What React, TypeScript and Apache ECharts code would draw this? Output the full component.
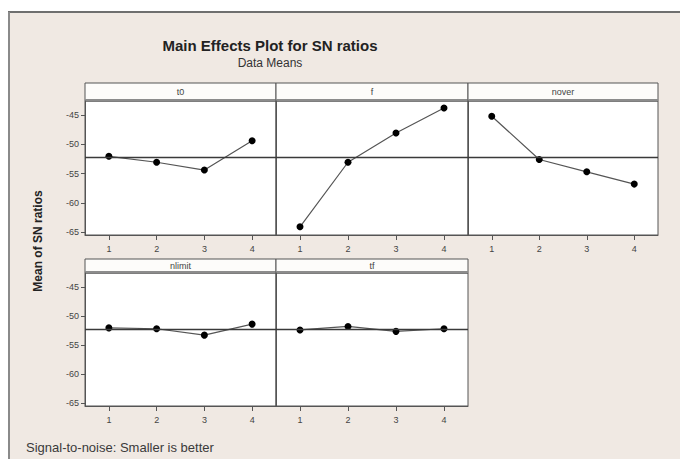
import React, { useEffect, useRef } from "react";
import * as echarts from "echarts";

const levels = ["1", "2", "3", "4"];
const factorNames = ["t0", "f", "nover", "nlimit", "tf"];
const t0Means = [-52.05, -53.07, -54.4, -49.4];
const fMeans = [-64.1, -53.07, -48.07, -43.8];
const noverMeans = [-45.2, -52.6, -54.7, -56.8];
const nlimitMeans = [-52.05, -52.2, -53.3, -51.4];
const tfMeans = [-52.4, -51.8, -52.65, -52.2];
const overallMean = -52.2;
const yTicks = [-65, -60, -55, -50, -45];
const yMin = -65.5;
const yMax = -42.6;

const titleText = "Main Effects Plot for SN ratios";
const subtitleText = "Data Means";
const yAxisTitle = "Mean of SN ratios";
const footnote = "Signal-to-noise: Smaller is better";

const seriesData = [t0Means, fMeans, noverMeans, nlimitMeans, tfMeans];

// layout: [left, width, headerTop, plotTop, plotBottom]
const panels = [
  [85, 191, 83, 101, 235],
  [276, 192, 83, 101, 235],
  [468, 190, 83, 101, 235],
  [85, 191, 259, 273, 406],
  [276, 192, 259, 273, 406],
];

const FONT = "Liberation Sans, Arial, sans-serif";

export default function App() {
  const ref = useRef<HTMLDivElement>(null);
  useEffect(() => {
    if (!ref.current) return;
    const chart = echarts.init(ref.current, undefined, { renderer: "svg" });
    const grids: any[] = [];
    const xAxes: any[] = [];
    const yAxes: any[] = [];
    const series: any[] = [];
    const graphics: any[] = [];

    // outer white margins and frame
    graphics.push({ type: "rect", shape: { x: 0, y: 0, width: 680, height: 11 }, style: { fill: "#ffffff" }, silent: true });
    graphics.push({ type: "rect", shape: { x: 0, y: 0, width: 8, height: 459 }, style: { fill: "#ffffff" }, silent: true });
    graphics.push({ type: "line", shape: { x1: 8, y1: 12, x2: 680, y2: 12 }, style: { stroke: "#6f6f6f", lineWidth: 2 }, silent: true });
    graphics.push({ type: "line", shape: { x1: 9, y1: 12, x2: 9, y2: 459 }, style: { stroke: "#8a8a8a", lineWidth: 2 }, silent: true });

    panels.forEach((p, i) => {
      const [left, width, hTop, pTop, pBottom] = p;
      const isLeft = i === 0 || i === 3;
      grids.push({
        left,
        top: pTop,
        width,
        height: pBottom - pTop,
        show: true,
        backgroundColor: "#ffffff",
        borderColor: "#555555",
        borderWidth: 1,
      });
      xAxes.push({
        type: "category",
        gridIndex: i,
        data: levels,
        boundaryGap: true,
        axisLine: { show: true, lineStyle: { color: "#555555", width: 1 } },
        axisTick: { show: true, alignWithLabel: true, length: 5, lineStyle: { color: "#555555" } },
        axisLabel: { fontSize: 9, color: "#444444", margin: 9, fontFamily: FONT },
        splitLine: { show: false },
      });
      yAxes.push({
        type: "value",
        gridIndex: i,
        min: yMin,
        max: yMax,
        axisLine: { show: true, lineStyle: { color: "#555555", width: 1 } },
        axisTick: { show: isLeft, length: 4, customValues: yTicks, lineStyle: { color: "#555555" } },
        axisLabel: { show: isLeft, customValues: yTicks, fontSize: 9, color: "#444444", margin: 6, fontFamily: FONT },
        splitLine: { show: false },
      });
      series.push({
        type: "line",
        xAxisIndex: i,
        yAxisIndex: i,
        data: seriesData[i],
        symbol: "circle",
        symbolSize: 7,
        itemStyle: { color: "#000000" },
        lineStyle: { color: "#555555", width: 1.2 },
        markLine: {
          silent: true,
          symbol: "none",
          label: { show: false },
          lineStyle: { color: "#3a3a3a", width: 1.3, type: "solid" },
          data: [{ yAxis: overallMean }],
        },
        z: 3,
      });
      // header strip
      graphics.push({
        type: "rect",
        shape: { x: left, y: hTop, width, height: pTop - hTop },
        style: { fill: "#fdfcfa", stroke: "#555555", lineWidth: 1 },
        silent: true,
      });
      graphics.push({
        type: "line",
        shape: { x1: left, y1: pTop - 1, x2: left + width, y2: pTop - 1 },
        style: { stroke: "#8c8c8c", lineWidth: 2 },
        silent: true,
      });
      graphics.push({
        type: "text",
        x: left + width / 2,
        y: hTop + (pTop - hTop) / 2 - 0.5,
        style: {
          text: factorNames[i],
          fill: "#444444",
          font: `9px ${FONT}`,
          textAlign: "center",
          textVerticalAlign: "middle",
        },
        silent: true,
      });
    });

    graphics.push({
      type: "text",
      x: 270,
      y: 45,
      style: { text: titleText, fill: "#222222", font: `bold 15px ${FONT}`, textAlign: "center", textVerticalAlign: "middle" },
      silent: true,
    });
    graphics.push({
      type: "text",
      x: 270,
      y: 63,
      style: { text: subtitleText, fill: "#333333", font: `12px ${FONT}`, textAlign: "center", textVerticalAlign: "middle" },
      silent: true,
    });
    graphics.push({
      type: "text",
      x: 38,
      y: 241,
      rotation: Math.PI / 2,
      style: { text: yAxisTitle, fill: "#222222", font: `bold 12px ${FONT}`, textAlign: "center", textVerticalAlign: "middle" },
      silent: true,
    });
    graphics.push({
      type: "text",
      x: 26,
      y: 447,
      style: { text: footnote, fill: "#3a3a3a", font: `13px ${FONT}`, textAlign: "left", textVerticalAlign: "middle" },
      silent: true,
    });

    chart.setOption({
      animation: false,
      backgroundColor: "#f0e9e3",
      grid: grids,
      xAxis: xAxes,
      yAxis: yAxes,
      series,
      graphic: graphics,
    });
    return () => chart.dispose();
  }, []);
  return <div ref={ref} style={{ position: "fixed", left: 0, top: 0, width: 680, height: 459 }} />;
}
